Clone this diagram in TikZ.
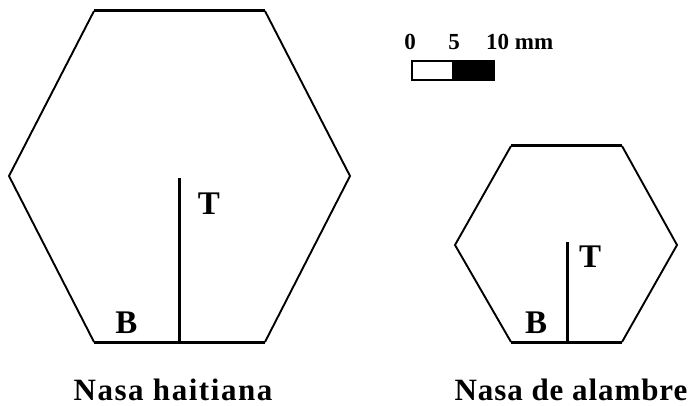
\documentclass[tikz,border=0pt]{standalone}
\usepackage{fontspec}
\setmainfont{Liberation Serif}
\begin{document}
\begin{tikzpicture}[x=1pt,y=-1pt,
  slant/.style={line width=1.9pt,line join=miter},
  flat/.style={line width=3pt},
  lbl/.style={inner sep=0pt,font=\fontsize{33}{33}\selectfont\bfseries},
  captxt/.style={inner sep=0pt,font=\fontsize{31}{31}\selectfont\bfseries\addfontfeature{LetterSpace=5}},
  captxtb/.style={inner sep=0pt,font=\fontsize{31}{31}\selectfont\bfseries\addfontfeature{LetterSpace=3}},
  num/.style={inner sep=0pt,font=\fontsize{23}{23}\selectfont\bfseries,anchor=base}]
\useasboundingbox (0,0) rectangle (693,406);
% large hexagon
\coordinate (A1) at (94,11);
\coordinate (A2) at (265,11);
\coordinate (A3) at (350,176);
\coordinate (A4) at (265,342);
\coordinate (A5) at (94,342);
\coordinate (A6) at (9,176);
\coordinate (S1b) at (179,342);
\coordinate (S1t) at (179,178);
\draw[slant] (A2) -- (A3) -- (A4);
\draw[slant] (A5) -- (A6) -- (A1);
\draw[flat] (A1) -- (A2);
\draw[flat] (A4) -- (A5);
\draw[flat] (S1b) -- (S1t);
\node[lbl] (T1) at (209,204) {T};
\node[lbl] (B1) at (126.5,323) {B};
\node[captxt] (C1) at (173,390) {Nasa haitiana};
% small hexagon
\coordinate (B1a) at (511,146);
\coordinate (B2a) at (622,146);
\coordinate (B3a) at (677,245);
\coordinate (B4a) at (622,342);
\coordinate (B5a) at (511,342);
\coordinate (B6a) at (455,245);
\coordinate (S2b) at (567,342);
\coordinate (S2t) at (567,242);
\draw[slant] (B2a) -- (B3a) -- (B4a);
\draw[slant] (B5a) -- (B6a) -- (B1a);
\draw[flat] (B1a) -- (B2a);
\draw[flat] (B4a) -- (B5a);
\draw[flat] (S2b) -- (S2t);
\node[lbl] (T2) at (590,256.5) {T};
\node[lbl] (B2) at (536,323) {B};
\node[captxtb] (C2) at (571,390) {Nasa de alambre};
% scale bar
\draw[line width=2pt,fill=white] (412,61) rectangle (453,80);
\draw[line width=2pt,fill=black] (453,61) rectangle (494,80);
\node[num] (N0) at (410,50) {0};
\node[num] (N5) at (454,50) {5};
\node[num,anchor=base west] (N10) at (486,50) {10 mm};
\end{tikzpicture}
\end{document}
